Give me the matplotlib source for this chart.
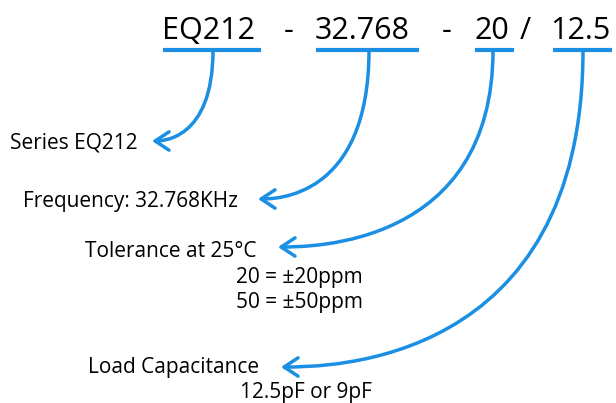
import matplotlib.pyplot as plt
from matplotlib.patches import FancyArrowPatch
from matplotlib.path import Path

BLUE = "#1a8fe3"
FONT = "Open Sans"

# code parts across the top: text, left x, underline start, underline end, stem x
parts = ["EQ212", "32.768", "20", "12.5"]
part_x = [162, 315, 474, 550]
line_x0 = [163, 316, 475, 553]
line_x1 = [261, 419, 514, 612]
stem_x = [213, 369, 493, 583]
seps = ["-", "-", "/"]
sep_x = [284, 442, 520]

# arrow tips (where each description sits)
tip_x = [152, 258, 278, 281]
tip_y = [141, 199, 247, 367]

# descriptions: text, x, baseline y
labels = ["Series EQ212", "Frequency: 32.768KHz", "Tolerance at 25°C",
          "20 = ±20ppm", "50 = ±50ppm", "Load Capacitance", "12.5pF or 9pF"]
label_x = [10, 23, 85, 236, 236, 88, 240]
label_y = [148, 207, 257, 283, 308, 373, 398]

fig = plt.figure(figsize=(6.16, 4.03), dpi=100)
ax = fig.add_axes([0, 0, 1, 1])
ax.set_xlim(0, 616)
ax.set_ylim(403, 0)
ax.axis("off")

for t, x in zip(parts, part_x):
    ax.text(x, 39, t, fontsize=22, family=FONT, va="baseline", ha="left")
for t, x in zip(seps, sep_x):
    ax.text(x, 39, t, fontsize=22, family=FONT, va="baseline", ha="left")

for a, b in zip(line_x0, line_x1):
    ax.plot([a, b], [50, 50], color=BLUE, lw=3, solid_capstyle="butt")

y0 = 50
for sx, tx, ty in zip(stem_x, tip_x, tip_y):
    verts = [(sx, y0), (sx, ty), (tx + 0.15 * (sx - tx), ty), (tx, ty)]
    codes = [Path.MOVETO, Path.CURVE4, Path.CURVE4, Path.CURVE4]
    arr = FancyArrowPatch(path=Path(verts, codes),
                          arrowstyle="->,head_length=0.5,head_width=0.33",
                          mutation_scale=20, color=BLUE, lw=2.5,
                          capstyle="round", joinstyle="round")
    ax.add_patch(arr)

for t, x, y in zip(labels, label_x, label_y):
    ax.text(x, y, t, fontsize=15, family=FONT, va="baseline", ha="left")

fig.savefig("out.png", dpi=100)
